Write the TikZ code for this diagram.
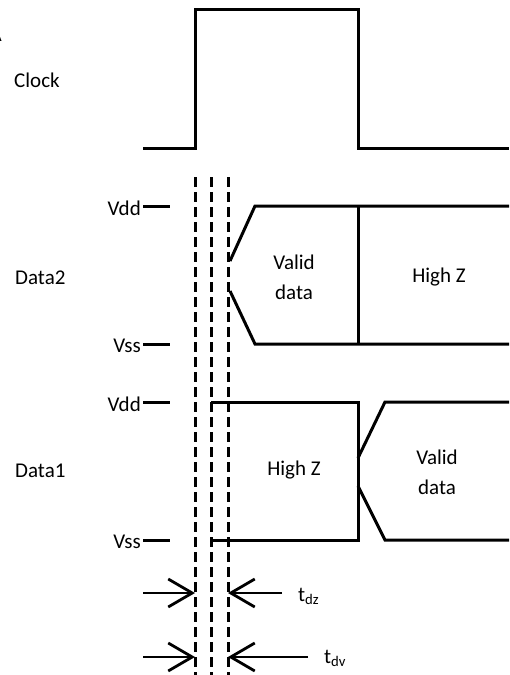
\documentclass[tikz,border=0pt]{standalone}
\usepackage{fontspec}
\setmainfont{Carlito}
\usetikzlibrary{
    arrows.meta     % For the open barb tips on the timing arrows
}

\begin{document}
\begin{tikzpicture}[
    x=1pt, y=-1pt,
    wave/.style={line width=3pt, line join=miter},
    guide/.style={line width=3pt, dash pattern=on 10pt off 5pt},
    lbl/.style={font=\fontsize{21}{25}\selectfont, inner sep=1pt},
    note/.style={font=\fontsize{21}{30}\selectfont, align=center},
    arrow/.style={line width=2.8pt, -{Straight Barb[length=24pt, width=28pt]}}
]
    \useasboundingbox (0,0) rectangle (509,675);

    % Clipped letter at the left edge
    \node[lbl, anchor=east] (corner) at (3,35) {A};

    % Clock
    \node[lbl, anchor=west] (clk) at (13,80) {Clock};
    \draw[wave] (143,148) -- (195,148) -- (195,9) -- (358,9) -- (358,148) -- (509,148);

    % Timing guides
    \draw[guide] (195,177) -- (195,675);
    \draw[guide] (211,177) -- (211,675);
    \draw[guide] (228,177) -- (228,675);

    % Data2
    \node[lbl, anchor=west] (d2) at (14,278) {Data2};
    \node[lbl, anchor=east] (vdd2) at (142,208) {Vdd};
    \node[lbl, anchor=east] (vss2) at (142,346) {Vss};
    \draw[wave] (143,206) -- (170,206);
    \draw[wave] (143,344) -- (170,344);
    \draw[wave] (509,206) -- (255,206) -- (230,261);
    \draw[wave] (230,291) -- (255,344) -- (509,344);
    \draw[wave] (358,206) -- (358,344);
    \node[note] (valid2) at (294,277) {Valid\\data};
    \node[note] (hiz2) at (439,277) {High Z};

    % Data1
    \node[lbl, anchor=west] (d1) at (14,471) {Data1};
    \node[lbl, anchor=east] (vdd1) at (142,404) {Vdd};
    \node[lbl, anchor=east] (vss1) at (142,542) {Vss};
    \draw[wave] (143,402) -- (170,402);
    \draw[wave] (143,540) -- (170,540);
    \draw[wave] (211,402) -- (358,402) -- (358,540) -- (211,540);
    \draw[wave] (358,458) -- (385,402) -- (509,402);
    \draw[wave] (358,486) -- (385,540) -- (509,540);
    \node[note] (hiz1) at (294,470) {High Z};
    \node[note] (valid1) at (437,472) {Valid\\data};

    % t_dz
    \coordinate (dzl) at (143,593);
    \coordinate (dzr) at (282,593);
    \draw[arrow] (dzl) -- (195,593);
    \draw[arrow] (dzr) -- (228,593);
    \node[lbl, anchor=west] (tdz) at (297,596) {t\textsubscript{dz}};

    % t_dv
    \coordinate (dvl) at (143,657);
    \coordinate (dvr) at (308,657);
    \draw[arrow] (dvl) -- (195,657);
    \draw[arrow] (dvr) -- (228,657);
    \node[lbl, anchor=west] (tdv) at (323,658) {t\textsubscript{dv}};

\end{tikzpicture}
\end{document}
